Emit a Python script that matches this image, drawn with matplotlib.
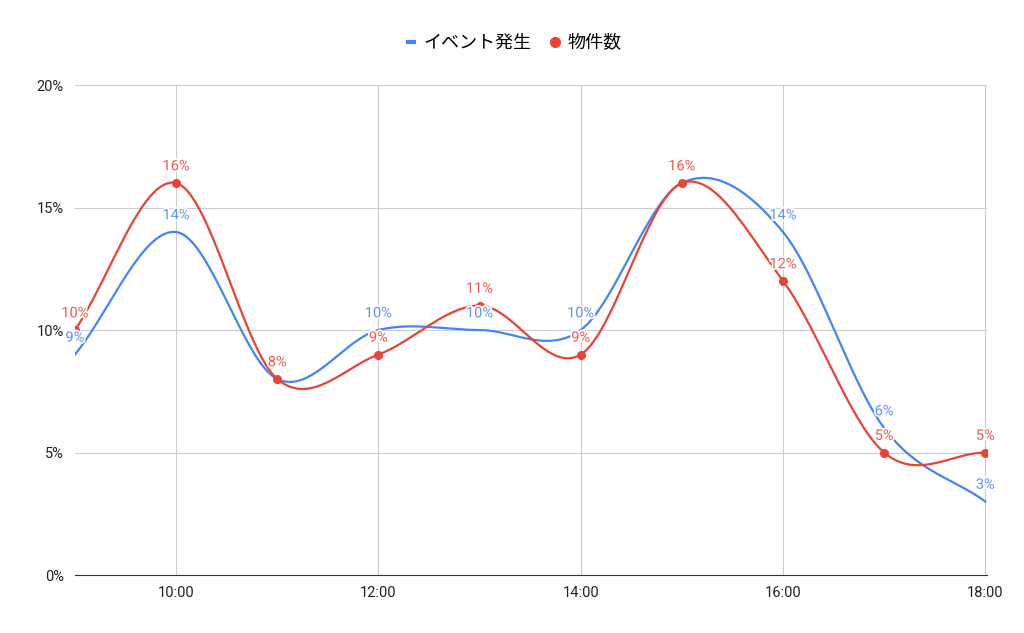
import numpy as np
import matplotlib.pyplot as plt
import matplotlib.patheffects as pe
from matplotlib.lines import Line2D

plt.rcParams['font.family'] = ['Roboto', 'Noto Sans CJK JP', 'DejaVu Sans']

hours = [9, 10, 11, 12, 13, 14, 15, 16, 17, 18]
event = [9, 14, 8, 10, 10, 10, 16, 14, 6, 3]
items = [10, 16, 8, 9, 11, 9, 16, 12, 5, 5]
series_names = ['イベント発生', '物件数']
blue = '#4285F4'
red = '#EA4335'
blue_lbl = '#5a95f5'
red_lbl = '#ec5a4e'


def smooth(x, y, n=40):
    # catmull-rom style hermite curve through the points
    x = np.asarray(x, float)
    y = np.asarray(y, float)
    m = np.zeros(len(y))
    m[1:-1] = (y[2:] - y[:-2]) / (x[2:] - x[:-2])
    m[0] = (y[1] - y[0]) / (x[1] - x[0])
    m[-1] = (y[-1] - y[-2]) / (x[-1] - x[-2])
    xs, ys = [], []
    for i in range(len(x) - 1):
        h = x[i + 1] - x[i]
        t = np.linspace(0, 1, n, endpoint=False)
        h00 = 2 * t**3 - 3 * t**2 + 1
        h10 = t**3 - 2 * t**2 + t
        h01 = -2 * t**3 + 3 * t**2
        h11 = t**3 - t**2
        xs.append(x[i] + t * h)
        ys.append(h00 * y[i] + h10 * h * m[i] + h01 * y[i + 1] + h11 * h * m[i + 1])
    xs.append([x[-1]])
    ys.append([y[-1]])
    return np.concatenate(xs), np.concatenate(ys)


fig = plt.figure(figsize=(10.24, 6.33), dpi=100)
ax = fig.add_axes([0.0732, 0.0916, 0.891, 0.7741])

bx, by = smooth(hours, event)
rx, ry = smooth(hours, items)
ax.plot(bx, by, color=blue, lw=1.6, zorder=3)
ax.plot(rx, ry, color=red, lw=1.6, zorder=4)
ax.plot(hours, items, 'o', color=red, ms=5.5, zorder=5, clip_on=True)

halo = [pe.withStroke(linewidth=2.5, foreground='white')]
for h, v in zip(hours, event):
    ax.annotate(f'{v}%', (h, v), xytext=(0, 7), textcoords='offset points',
                ha='center', va='bottom', color=blue_lbl, fontsize=10.5, zorder=6,
                path_effects=halo)
for h, v in zip(hours, items):
    ax.annotate(f'{v}%', (h, v), xytext=(0, 7), textcoords='offset points',
                ha='center', va='bottom', color=red_lbl, fontsize=10.5, zorder=7,
                path_effects=halo)

ax.set_xlim(9, 18.02)
ax.set_ylim(0, 20)
ax.set_yticks([0, 5, 10, 15, 20])
ax.set_yticklabels([f'{v}%' for v in [0, 5, 10, 15, 20]])
ax.set_xticks([10, 12, 14, 16, 18])
ax.set_xticklabels([f'{h}:00' for h in [10, 12, 14, 16, 18]])
ax.grid(True, color='#cccccc', lw=0.8)
ax.set_axisbelow(True)
for s in ['top', 'right', 'left']:
    ax.spines[s].set_visible(False)
ax.spines['bottom'].set_color('#333333')
ax.tick_params(length=0, labelsize=10.5, colors='#222222', pad=8)

handles = [Line2D([], [], color=blue, marker='_', ls='none', ms=7, mew=3),
           Line2D([], [], color=red, marker='o', ls='none', ms=7)]
fig.legend(handles, series_names, loc='center', bbox_to_anchor=(0.5, 0.932),
           ncol=2, frameon=False, handletextpad=0.2,
           columnspacing=0.8, handlelength=1.0,
           prop={'family': ['Noto Sans CJK JP'], 'size': 13})

fig.savefig('out.png', dpi=100, facecolor='white')
